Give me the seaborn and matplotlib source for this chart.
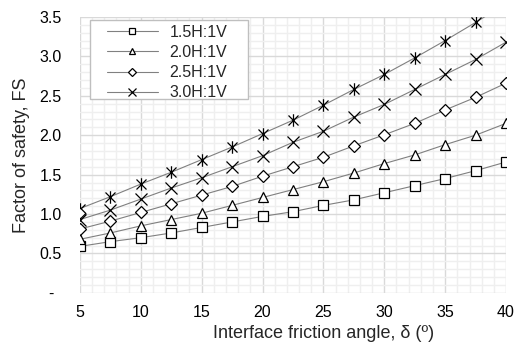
import numpy as np
import pandas as pd
import matplotlib
matplotlib.use("Agg")
import matplotlib.pyplot as plt
from matplotlib.path import Path
from matplotlib.patches import Rectangle
from matplotlib.ticker import MultipleLocator, FixedLocator
import seaborn as sns

# ---------------- data ----------------
delta = [5, 7.5, 10, 12.5, 15, 17.5, 20, 22.5, 25, 27.5, 30, 32.5, 35, 37.5, 40]
fs_15 = [0.59, 0.65, 0.70, 0.76, 0.83, 0.90, 0.97, 1.03, 1.11, 1.18, 1.27, 1.36, 1.45, 1.55, 1.66]
fs_20 = [0.68, 0.76, 0.85, 0.93, 1.01, 1.11, 1.21, 1.31, 1.41, 1.52, 1.64, 1.75, 1.88, 2.00, 2.15]
fs_25 = [0.81, 0.91, 1.02, 1.13, 1.24, 1.35, 1.48, 1.60, 1.72, 1.865, 2.005, 2.15, 2.32, 2.48, 2.66]
fs_30 = [0.93, 1.05, 1.19, 1.33, 1.46, 1.60, 1.74, 1.91, 2.05, 2.23, 2.39, 2.58, 2.77, 2.96, 3.18]
fs_top = [1.07, 1.22, 1.38, 1.53, 1.69, 1.85, 2.02, 2.19, 2.38, 2.58, 2.77, 2.98, 3.20, 3.43, 3.67]
extra_x = [5]
extra_y = [1.01]

labels = ["1.5H:1V", "2.0H:1V", "2.5H:1V", "3.0H:1V"]
y_ticks = [0, 0.5, 1.0, 1.5, 2.0, 2.5, 3.0, 3.5]
y_ticklabels = ["-", "0.5", "1.0", "1.5", "2.0", "2.5", "3.0", "3.5"]
x_ticks = [5, 10, 15, 20, 25, 30, 35, 40]

# ---------------- style ----------------
sns.set_theme(style="white")
plt.rcParams["font.family"] = ["Liberation Sans", "DejaVu Sans"]

fig = plt.figure(figsize=(5.19, 3.45), dpi=100)
ax = fig.add_axes([0.154, 0.151, 0.821, 0.800])

# asterisk-like marker (x with a vertical bar)
star_path = Path(
    [(-1, -1), (1, 1), (-1, 1), (1, -1), (0, -1.25), (0, 1.25)],
    [Path.MOVETO, Path.LINETO, Path.MOVETO, Path.LINETO, Path.MOVETO, Path.LINETO],
)

common = dict(color="#808080", linewidth=0.8, markeredgecolor="black",
              markerfacecolor="white", markeredgewidth=0.9, clip_on=True)

series = [
    (fs_15, "s", labels[0], 7),
    (fs_20, "^", labels[1], 7.5),
    (fs_25, "D", labels[2], 6),
    (fs_30, "x", labels[3], 8),
]
for vals, mk, lab, ms in series:
    df = pd.DataFrame({"delta": delta, "fs": vals})
    sns.lineplot(data=df, x="delta", y="fs", ax=ax, marker=mk, markersize=ms,
                 label=lab, **common)

df_top = pd.DataFrame({"delta": delta, "fs": fs_top})
sns.lineplot(data=df_top, x="delta", y="fs", ax=ax, marker=star_path, markersize=9,
             label="_nolegend_", **common)
df_ex = pd.DataFrame({"delta": extra_x, "fs": extra_y})
sns.scatterplot(data=df_ex, x="delta", y="fs", ax=ax, marker="D", s=30,
                facecolor="white", edgecolor="black", linewidth=0.9,
                label="_nolegend_", zorder=3)

ax.set_xlim(5, 40)
ax.set_ylim(0, 3.5)
ax.xaxis.set_major_locator(FixedLocator(x_ticks))
ax.yaxis.set_major_locator(FixedLocator(y_ticks))
ax.set_yticklabels(y_ticklabels)
ax.xaxis.set_minor_locator(MultipleLocator(1))
ax.yaxis.set_minor_locator(MultipleLocator(0.1))
ax.grid(which="major", color="#d9d9d9", linewidth=1.0)
ax.grid(which="minor", color="#efefef", linewidth=1.0)
ax.set_axisbelow(True)
for s in ax.spines.values():
    s.set_visible(False)
ax.tick_params(axis="both", which="both", length=0, labelsize=11.5, colors="black")
ax.tick_params(axis="x", pad=9)
ax.tick_params(axis="y", pad=21)
for t in ax.get_yticklabels():
    t.set_horizontalalignment("center")

ax.set_xlabel("Interface friction angle, δ (º)", fontsize=13)
ax.xaxis.set_label_coords(0.572, -0.118)
ax.set_ylabel("Factor of safety, FS", fontsize=13)
ax.yaxis.set_label_coords(-0.118, 0.5)

# legend frame (drawn as a box) and legend entries
ax.add_patch(Rectangle((0.0235, 0.703), 0.371, 0.286, transform=ax.transAxes,
                       facecolor="white", edgecolor="#bfbfbf", linewidth=1.0,
                       zorder=4, clip_on=False))
leg = ax.legend(loc="upper left", bbox_to_anchor=(0.063, 0.972), borderaxespad=0,
                fontsize=11.5, handlelength=3.2, markerscale=0.65, frameon=False,
                borderpad=0, labelspacing=0.33, handletextpad=0.72)
leg.set_zorder(5)

fig.savefig("out.png", dpi=100)
